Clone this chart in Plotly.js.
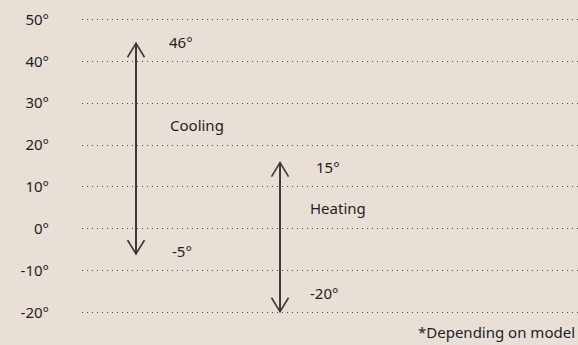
<!DOCTYPE html>
<html>
<head>
<meta charset="utf-8">
<script src="https://cdn.plot.ly/plotly-3.0.1.min.js"></script>
<style>html,body{margin:0;padding:0;background:#e8e0d6;}#chart{width:578px;height:345px;}</style>
</head>
<body>
<div id="chart"></div>
<script>
// Data
const modes = ["Cooling", "Heating"];
const maxLabel = [46, 15];        // printed upper limits
const minLabel = [-5, -20];       // printed lower limits
const arrowTop = [44.3, 15.8];    // arrow tip positions as drawn
const arrowBottom = [-6, -19.8];  // arrow tail positions as drawn
const modeLabelY = [24.8, 5];     // where the mode names sit
const maxLabelY = [44.6, 14.8];
const minLabelY = [-5.4, -15.3];
const yTicks = [-20, -10, 0, 10, 20, 30, 40, 50];
const note = "*Depending on model";

const FONT = "Noto Sans, sans-serif";
const FS = 15;
const INK = "#3a3a3a";
const TXT = "#1e1e1e";

const shapes = [];
const annotations = [];
const labelShift = [{max: 31, mode: 32, min: 34}, {max: 34, mode: 28, min: 28}];

modes.forEach((m, i) => {
  shapes.push({type: "line", xref: "x", yref: "y", x0: i, x1: i, y0: arrowBottom[i], y1: arrowTop[i],
    line: {color: INK, width: 2}});
  shapes.push({type: "path", xref: "x", yref: "y", xsizemode: "pixel", ysizemode: "pixel",
    xanchor: i, yanchor: arrowTop[i], path: "M-8.5,-14 L0,0 L8.5,-14", line: {color: INK, width: 1.6}});
  shapes.push({type: "path", xref: "x", yref: "y", xsizemode: "pixel", ysizemode: "pixel",
    xanchor: i, yanchor: arrowBottom[i], path: "M-8.5,14 L0,0 L8.5,14", line: {color: INK, width: 1.6}});
  annotations.push({x: i, y: maxLabelY[i], xref: "x", yref: "y", text: maxLabel[i] + "°", showarrow: false,
    xanchor: "left", yanchor: "middle", xshift: labelShift[i].max, font: {family: FONT, size: FS, color: TXT}});
  annotations.push({x: i, y: modeLabelY[i], xref: "x", yref: "y", text: m, showarrow: false,
    xanchor: "left", yanchor: "middle", xshift: labelShift[i].mode, font: {family: FONT, size: FS, color: TXT}});
  annotations.push({x: i, y: minLabelY[i], xref: "x", yref: "y", text: minLabel[i] + "°", showarrow: false,
    xanchor: "left", yanchor: "middle", xshift: labelShift[i].min, font: {family: FONT, size: FS, color: TXT}});
});

annotations.push({x: 1, y: 0, xref: "paper", yref: "paper", text: note, showarrow: false,
  xanchor: "right", yanchor: "middle", xshift: -1, yshift: -11, font: {family: FONT, size: FS, color: TXT}});

// invisible trace to establish the category axis
const traces = [{x: modes, y: arrowTop, type: "scatter", mode: "markers", marker: {opacity: 0}, hoverinfo: "skip", showlegend: false}];

const layout = {
  width: 578, height: 345,
  margin: {l: 82, r: 0, t: 11, b: 24, pad: 0},
  paper_bgcolor: "#e8e0d6", plot_bgcolor: "#e8e0d6",
  font: {family: FONT, size: FS, color: TXT},
  showlegend: false,
  xaxis: {type: "category", range: [-0.375, 3.069], visible: false, fixedrange: true},
  yaxis: {range: [-22, 52], tickvals: yTicks, ticktext: yTicks.map(v => v + "°"),
    showgrid: true, gridcolor: "#4a4a4a", gridwidth: 1, griddash: "1px,4px",
    zeroline: false, showline: false, ticks: "", ticklabelstandoff: 32,
    tickfont: {family: FONT, size: FS, color: TXT}},
  shapes: shapes,
  annotations: annotations
};

Plotly.newPlot("chart", traces, layout, {staticPlot: true, displayModeBar: false});
</script>
</body>
</html>
